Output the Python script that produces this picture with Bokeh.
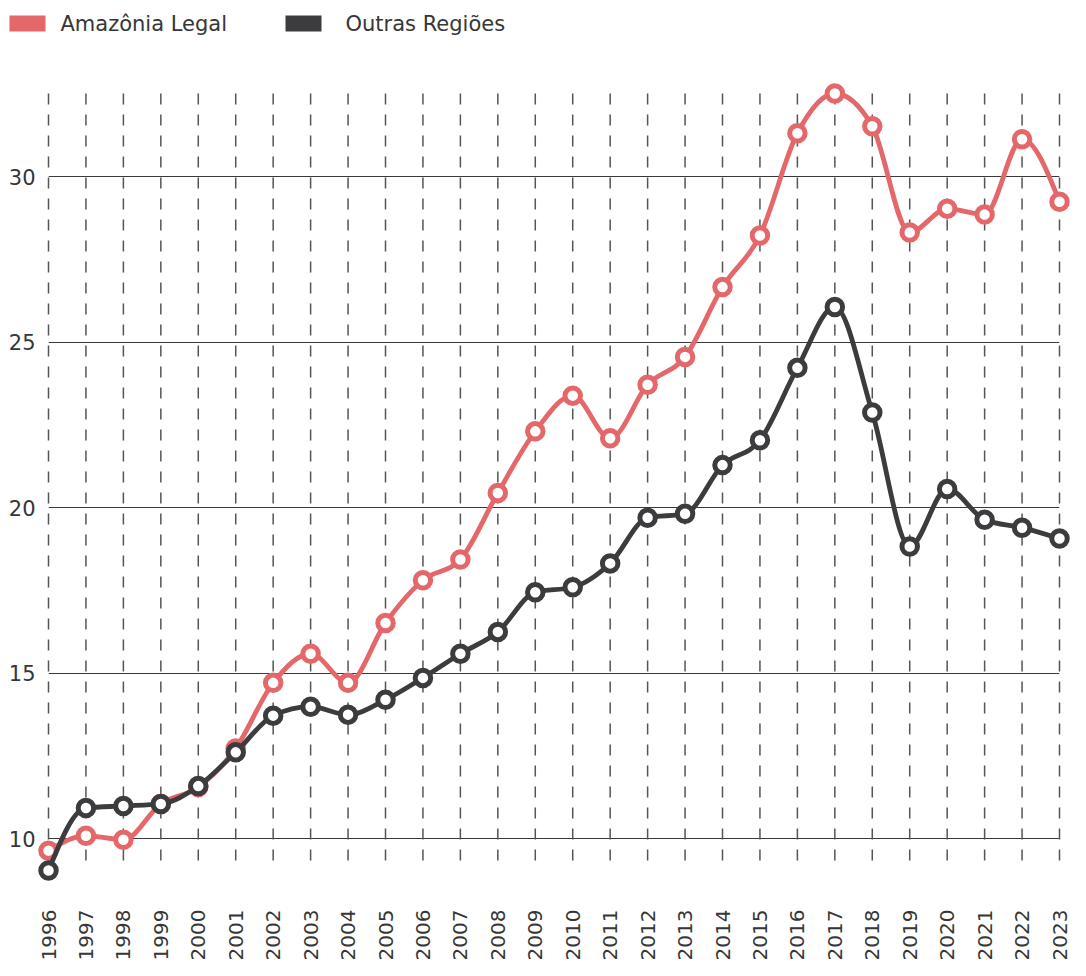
import numpy as np
from bokeh.plotting import figure
from bokeh.layouts import column
from bokeh.models import Range1d, FixedTicker, ColumnDataSource
from bokeh.core.properties import value
from bokeh.embed import file_html
from bokeh.resources import INLINE

years = list(range(1996, 2024))
amazonia = [9.64, 10.09, 9.97, 11.05, 11.56, 12.73, 14.71, 15.59, 14.71, 16.52,
            17.81, 18.44, 20.45, 22.31, 23.39, 22.10, 23.72, 24.56, 26.67, 28.23,
            31.32, 32.52, 31.53, 28.32, 29.04, 28.86, 31.14, 29.25]
outras = [9.04, 10.93, 10.99, 11.05, 11.59, 12.61, 13.72, 13.99, 13.75, 14.20,
          14.86, 15.59, 16.25, 17.45, 17.60, 18.32, 19.70, 19.82, 21.29, 22.04,
          24.23, 26.07, 22.88, 18.83, 20.57, 19.64, 19.40, 19.07]
y_ticks = [10, 15, 20, 25, 30]
series_names = ["Amazônia Legal", "Outras Regiões"]
colors = ["#E4676A", "#3C3C3E"]

FONT = "DejaVu Sans"
TXT = "#363636"
W = 1070
BL, BR = 48, 11   # left / right borders around the plotting frame


def monotone_bezier(xs, ys):
    """Control points of a monotone-X cubic curve through the points (d3 curveMonotoneX)."""
    xs = np.asarray(xs, float)
    ys = np.asarray(ys, float)
    n = len(xs)
    h = np.diff(xs)
    s = np.diff(ys) / h
    t = np.zeros(n)
    for i in range(1, n - 1):
        s0, s1 = s[i - 1], s[i]
        p = (s0 * h[i] + s1 * h[i - 1]) / (h[i - 1] + h[i])
        sg = (1 if s0 >= 0 else -1) + (1 if s1 >= 0 else -1)
        t[i] = sg * min(abs(s0), abs(s1), 0.5 * abs(p))
    t[0] = (3 * s[0] - t[1]) / 2
    t[-1] = (3 * s[-1] - t[-2]) / 2
    dx = h / 3
    return dict(x0=xs[:-1], y0=ys[:-1], x1=xs[1:], y1=ys[1:],
                cx0=xs[:-1] + dx, cy0=ys[:-1] + dx * t[:-1],
                cx1=xs[1:] - dx, cy1=ys[1:] - dx * t[1:])


# ---------------- legend strip (x in page pixels) ----------------
LH = 60
lg = figure(width=W, height=LH, output_backend="svg", toolbar_location=None,
            x_range=Range1d(BL, W - BR), y_range=Range1d(LH, 0),
            min_border_left=BL, min_border_right=BR,
            min_border_top=0, min_border_bottom=0)
lg.axis.visible = False
lg.grid.visible = False
lg.outline_line_color = None
sw = lg.rect(x=[27, 303], y=[23, 23], width=36, height=16, fill_color=colors,
             line_color=None)
sw.level = "overlay"
lt = lg.text(x=[60, 345], y=[23, 23], text=series_names, text_align="left",
             text_baseline="middle", text_font=value(FONT), text_font_size="21px",
             text_color=TXT)
lt.level = "overlay"

# ---------------- main chart ----------------
all_vals = amazonia + outras
y_lo, y_hi = min(all_vals), max(all_vals)
p = figure(width=W, height=960 - LH, output_backend="svg", toolbar_location=None,
           x_range=Range1d(years[0], years[-1]),
           y_range=Range1d(y_lo, y_hi),
           min_border_left=BL, min_border_right=BR, min_border_top=33,
           min_border_bottom=90)
p.outline_line_color = None

# axes
p.xaxis.visible = False
p.yaxis.ticker = FixedTicker(ticks=y_ticks)
p.yaxis.axis_line_color = None
p.yaxis.major_tick_line_color = None
p.yaxis.minor_tick_line_color = None
p.yaxis.major_tick_out = 0
p.yaxis.major_tick_in = 0
p.yaxis.major_label_standoff = 13
p.yaxis.major_label_text_font = FONT
p.yaxis.major_label_text_font_size = "21px"
p.yaxis.major_label_text_color = TXT

# grids: solid horizontal, dashed vertical at every year (incl. both ends)
p.xgrid.visible = False
p.ygrid.ticker = FixedTicker(ticks=y_ticks)
p.ygrid.grid_line_color = "#3a3a3a"
p.ygrid.grid_line_width = 1
vg = p.segment(x0=years, y0=[y_hi] * len(years), x1=years, y1=[y_lo] * len(years),
               line_color="#555555", line_width=1.5, line_dash="11 10")
vg.level = "annotation"

# series
for vals, col in zip([amazonia, outras], colors):
    bz = ColumnDataSource(monotone_bezier(years, vals))
    r = p.bezier(x0="x0", y0="y0", x1="x1", y1="y1", cx0="cx0", cy0="cy0",
                 cx1="cx1", cy1="cy1", source=bz, line_color=col, line_width=4.8)
    r.level = "overlay"
    m = p.scatter(years, vals, marker="circle", size=15.5, fill_color="white",
                  line_color=col, line_width=5)
    m.level = "overlay"

# x labels (rotated, below the frame)
lab = p.text(x=years, y=[y_lo] * len(years), text=[str(y) for y in years],
             angle=np.pi / 2, text_align="right", text_baseline="middle",
             y_offset=39, text_font=value(FONT), text_font_size="20px",
             text_color=TXT)
lab.level = "overlay"

layout = column(lg, p, spacing=0)
open("out.html", "w").write(file_html(layout, INLINE))
